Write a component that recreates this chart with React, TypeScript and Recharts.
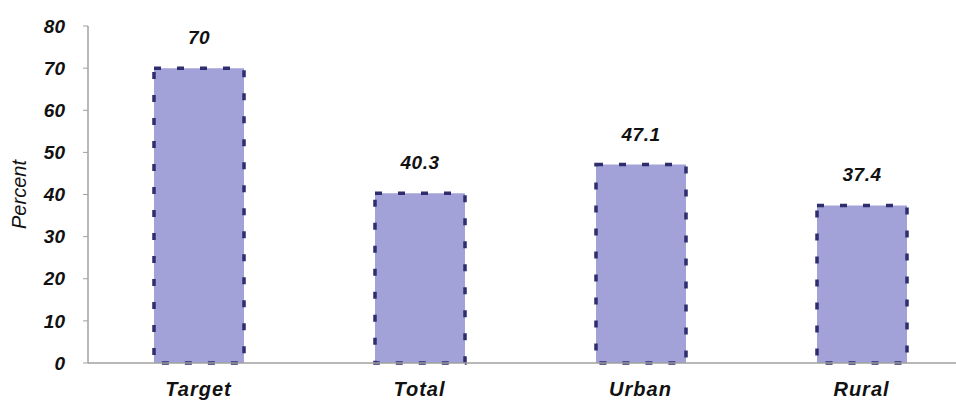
import React from "react";
import { BarChart, Bar, XAxis, YAxis, LabelList } from "recharts";

const categories = ["Target", "Total", "Urban", "Rural"];
const percentValues = [70, 40.3, 47.1, 37.4];
const yTicks = [0, 10, 20, 30, 40, 50, 60, 70, 80];

const data = categories.map((name, i) => ({ name, value: percentValues[i] }));

const font = "'Liberation Sans', Arial, sans-serif";

export default function App() {
  return (
    <div style={{ position: "absolute", left: 0, top: 0, width: 956, height: 402, overflow: "hidden", background: "#fff" }}>
      <BarChart
        width={972}
        height={402}
        data={data}
        margin={{ top: 26, right: 0, bottom: 0, left: 0 }}
        barSize={90}
      >
        <XAxis
          dataKey="name"
          height={39}
          axisLine={{ stroke: "#a0a0a0", strokeWidth: 1.5 }}
          tickLine={false}
          tick={{ fill: "#111", fontSize: 20, fontWeight: 700, fontStyle: "italic", fontFamily: font, letterSpacing: 1 }}
          tickMargin={13}
        />
        <YAxis
          width={88}
          domain={[0, 80]}
          ticks={yTicks}
          interval={0}
          axisLine={{ stroke: "#a0a0a0", strokeWidth: 1.5 }}
          tickLine={{ stroke: "#a0a0a0" }}
          tickSize={5}
          tickMargin={18}
          tick={{ fill: "#111", fontSize: 19, fontWeight: 700, fontStyle: "italic", fontFamily: font }}
          label={{
            value: "Percent",
            angle: -90,
            position: "insideLeft",
            offset: 19,
            style: { fill: "#111", fontSize: 20, fontWeight: 400, fontStyle: "italic", fontFamily: font, textAnchor: "middle" },
          }}
        />
        <Bar
          dataKey="value"
          fill="#a2a2d8"
          stroke="#2e2e6e"
          strokeWidth={3.5}
          strokeDasharray="7 16"
          isAnimationActive={false}
        >
          <LabelList
            dataKey="value"
            position="top"
            offset={24}
            style={{ fill: "#111", fontSize: 19, fontWeight: 700, fontStyle: "italic", fontFamily: font, letterSpacing: 0.5 }}
          />
        </Bar>
      </BarChart>
    </div>
  );
}
